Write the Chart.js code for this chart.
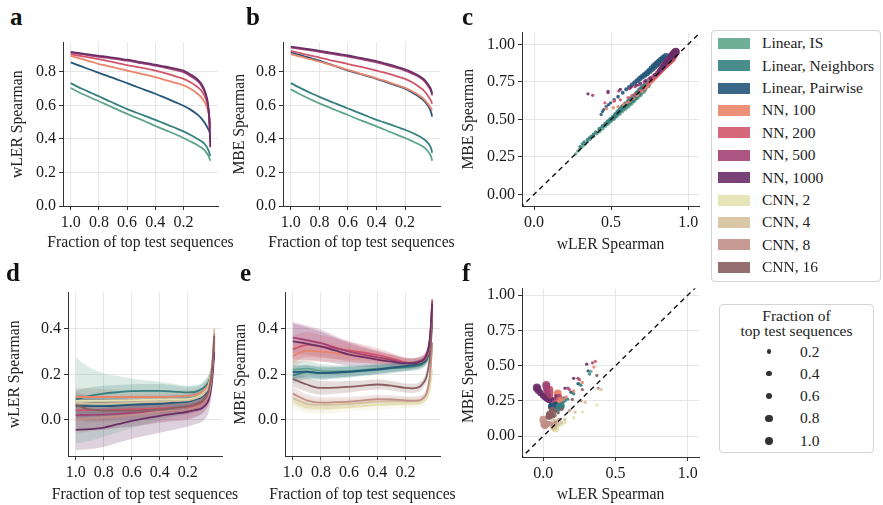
<!DOCTYPE html>
<html lang="en">
<head>
  <meta charset="UTF-8" />
  <title>wLER vs MBE Spearman</title>
  <script src="https://cdn.jsdelivr.net/npm/chart.js"></script>
  <style>
    body { margin: 0; background: #fff; }
    #wrap { position: relative; width: 883px; height: 505px; overflow: hidden; font-family: "Liberation Serif", "Times New Roman", serif; color: #222; }
    canvas { position: absolute; }
    .tag { position: absolute; font: bold 25px "Liberation Serif", serif; line-height: 1; color: #111; }
    .legend { position: absolute; box-sizing: border-box; border: 1px solid #d4d4d4; border-radius: 4px; background: #fff; font-size: 15.5px; line-height: 1; }
    .row { position: absolute; left: 0; right: 0; height: 0; }
    .patch { position: absolute; left: 6px; top: -5.5px; width: 32px; height: 11px; }
    .lbl { position: absolute; top: -8px; white-space: nowrap; }
    .dot { position: absolute; border-radius: 50%; background: #333; }
    .ttl { position: absolute; left: 0; right: 0; text-align: center; }
  </style>
</head>
<body>
<div id="wrap">
  <canvas id="pa"></canvas>
  <canvas id="pb"></canvas>
  <canvas id="pc"></canvas>
  <canvas id="pd"></canvas>
  <canvas id="pe"></canvas>
  <canvas id="pf"></canvas>
  <div class="tag" style="left:10px;top:4px">a</div>
  <div class="tag" style="left:246px;top:4px">b</div>
  <div class="tag" style="left:462px;top:4px">c</div>
  <div class="tag" style="left:6px;top:260px">d</div>
  <div class="tag" style="left:240px;top:260px">e</div>
  <div class="tag" style="left:462px;top:260px">f</div>
  <div class="legend" id="modelLegend" style="left:711px;top:30px;width:170px;height:252px"></div>
  <div class="legend" id="sizeLegend" style="left:719px;top:304px;width:155px;height:149px"></div>
</div>
<script>
  // x values: fraction of top test sequences
  const FRAC_TOP = [1.0, 0.95, 0.9, 0.85, 0.8, 0.75, 0.7, 0.65, 0.6, 0.55, 0.5, 0.45, 0.4, 0.35, 0.3, 0.25, 0.2,
                    0.15, 0.1, 0.07, 0.05, 0.04, 0.03, 0.02, 0.015, 0.01];
  const FRAC_BOT = [1.0, 0.9, 0.8, 0.7, 0.6, 0.5, 0.4, 0.3, 0.2, 0.15, 0.1, 0.07, 0.05, 0.03, 0.02, 0.01];

  const MODELS = ['Linear, IS', 'Linear, Neighbors', 'Linear, Pairwise', 'NN, 100', 'NN, 200', 'NN, 500', 'NN, 1000',
                  'CNN, 2', 'CNN, 4', 'CNN, 8', 'CNN, 16'];
  const COLORS = ['#5fa58c', '#35807f', '#25577a', '#ea846b', '#d2566b', '#a34275', '#6b2f68',
                  '#e4e1b0', '#d5c19e', '#c18f88', '#8a5e60'];

  // panel a: wLER Spearman (rows follow MODELS, first seven)
  const A_WLER = [
    [0.704, 0.682, 0.662, 0.643, 0.625, 0.606, 0.587, 0.568, 0.550, 0.532, 0.515, 0.496, 0.478, 0.460, 0.443, 0.425, 0.406, 0.385, 0.363, 0.347, 0.333, 0.322, 0.310, 0.295, 0.284, 0.270],
    [0.733, 0.711, 0.692, 0.673, 0.655, 0.635, 0.616, 0.597, 0.578, 0.562, 0.546, 0.530, 0.514, 0.497, 0.480, 0.463, 0.445, 0.424, 0.400, 0.385, 0.370, 0.358, 0.345, 0.325, 0.313, 0.298],
    [0.857, 0.841, 0.825, 0.810, 0.794, 0.779, 0.764, 0.749, 0.733, 0.717, 0.701, 0.686, 0.670, 0.653, 0.635, 0.617, 0.598, 0.575, 0.545, 0.520, 0.497, 0.483, 0.468, 0.452, 0.444, 0.435],
    [0.896, 0.884, 0.872, 0.860, 0.847, 0.838, 0.828, 0.818, 0.808, 0.799, 0.789, 0.779, 0.769, 0.757, 0.745, 0.733, 0.720, 0.700, 0.670, 0.645, 0.620, 0.602, 0.580, 0.545, 0.515, 0.470],
    [0.906, 0.898, 0.891, 0.884, 0.876, 0.867, 0.858, 0.850, 0.841, 0.833, 0.825, 0.817, 0.808, 0.797, 0.785, 0.772, 0.759, 0.738, 0.710, 0.685, 0.655, 0.635, 0.610, 0.560, 0.520, 0.460],
    [0.916, 0.910, 0.903, 0.896, 0.890, 0.885, 0.879, 0.873, 0.867, 0.860, 0.852, 0.845, 0.837, 0.829, 0.820, 0.810, 0.798, 0.775, 0.745, 0.715, 0.680, 0.655, 0.620, 0.550, 0.480, 0.380],
    [0.920, 0.914, 0.908, 0.902, 0.896, 0.891, 0.885, 0.879, 0.873, 0.866, 0.858, 0.851, 0.843, 0.835, 0.827, 0.818, 0.808, 0.785, 0.755, 0.725, 0.690, 0.665, 0.630, 0.560, 0.480, 0.350]
  ];

  // panel b: MBE Spearman
  const B_MBE = [
    [0.696, 0.673, 0.652, 0.632, 0.612, 0.594, 0.577, 0.560, 0.543, 0.525, 0.508, 0.492, 0.475, 0.458, 0.440, 0.423, 0.406, 0.387, 0.367, 0.352, 0.337, 0.327, 0.315, 0.300, 0.288, 0.270],
    [0.733, 0.711, 0.690, 0.670, 0.651, 0.633, 0.616, 0.599, 0.582, 0.565, 0.548, 0.531, 0.514, 0.500, 0.485, 0.470, 0.455, 0.437, 0.416, 0.400, 0.386, 0.376, 0.365, 0.350, 0.337, 0.318],
    [0.916, 0.904, 0.892, 0.880, 0.867, 0.853, 0.838, 0.823, 0.808, 0.796, 0.784, 0.772, 0.759, 0.745, 0.730, 0.715, 0.700, 0.677, 0.651, 0.630, 0.610, 0.598, 0.585, 0.565, 0.552, 0.533],
    [0.906, 0.895, 0.884, 0.873, 0.862, 0.850, 0.837, 0.825, 0.812, 0.800, 0.787, 0.775, 0.762, 0.749, 0.735, 0.720, 0.705, 0.685, 0.660, 0.640, 0.620, 0.610, 0.600, 0.585, 0.578, 0.570],
    [0.925, 0.915, 0.905, 0.896, 0.886, 0.876, 0.866, 0.857, 0.847, 0.838, 0.828, 0.818, 0.808, 0.797, 0.785, 0.772, 0.759, 0.738, 0.710, 0.690, 0.670, 0.658, 0.645, 0.630, 0.621, 0.610],
    [0.945, 0.939, 0.933, 0.927, 0.920, 0.913, 0.906, 0.899, 0.892, 0.884, 0.875, 0.866, 0.857, 0.846, 0.835, 0.822, 0.808, 0.790, 0.769, 0.750, 0.730, 0.718, 0.705, 0.690, 0.677, 0.660],
    [0.951, 0.945, 0.939, 0.933, 0.926, 0.919, 0.912, 0.905, 0.898, 0.890, 0.882, 0.873, 0.864, 0.853, 0.842, 0.829, 0.816, 0.798, 0.776, 0.758, 0.740, 0.728, 0.715, 0.700, 0.687, 0.670]
  ];

  // panel d: wLER Spearman mean and spread, all models
  const D_WLER = [
    [0.085, 0.068, 0.065, 0.068, 0.072, 0.077, 0.082, 0.086, 0.090, 0.098, 0.110, 0.128, 0.148, 0.200, 0.250, 0.330],
    [0.090, 0.105, 0.115, 0.121, 0.126, 0.127, 0.127, 0.124, 0.120, 0.122, 0.135, 0.150, 0.168, 0.210, 0.260, 0.320],
    [0.060, 0.060, 0.060, 0.062, 0.065, 0.068, 0.070, 0.075, 0.080, 0.088, 0.100, 0.118, 0.138, 0.190, 0.240, 0.310],
    [0.100, 0.100, 0.100, 0.100, 0.100, 0.100, 0.100, 0.102, 0.105, 0.110, 0.120, 0.138, 0.158, 0.210, 0.270, 0.350],
    [0.042, 0.042, 0.042, 0.044, 0.046, 0.048, 0.050, 0.053, 0.056, 0.063, 0.075, 0.095, 0.118, 0.180, 0.250, 0.360],
    [0.020, 0.021, 0.022, 0.026, 0.030, 0.033, 0.036, 0.040, 0.045, 0.053, 0.065, 0.085, 0.108, 0.170, 0.240, 0.340],
    [-0.045, -0.042, -0.035, -0.020, -0.005, 0.006, 0.017, 0.026, 0.035, 0.042, 0.050, 0.066, 0.088, 0.150, 0.210, 0.300],
    [0.083, 0.083, 0.083, 0.084, 0.085, 0.087, 0.088, 0.089, 0.090, 0.097, 0.110, 0.128, 0.148, 0.210, 0.270, 0.370],
    [0.075, 0.071, 0.070, 0.072, 0.075, 0.078, 0.080, 0.083, 0.085, 0.093, 0.105, 0.125, 0.148, 0.220, 0.290, 0.400],
    [0.000, 0.005, 0.010, 0.015, 0.020, 0.028, 0.035, 0.040, 0.045, 0.053, 0.065, 0.085, 0.108, 0.180, 0.260, 0.380],
    [0.065, 0.045, 0.040, 0.040, 0.040, 0.042, 0.045, 0.052, 0.060, 0.068, 0.080, 0.102, 0.128, 0.200, 0.270, 0.370]
  ];
  const D_SD = [
    [0.190, 0.162, 0.140, 0.124, 0.110, 0.097, 0.085, 0.072, 0.060, 0.055, 0.050, 0.050, 0.050, 0.050, 0.050, 0.040],
    [0.040, 0.037, 0.035, 0.032, 0.030, 0.030, 0.030, 0.028, 0.025, 0.025, 0.025, 0.028, 0.030, 0.030, 0.030, 0.030],
    [0.050, 0.047, 0.045, 0.042, 0.040, 0.037, 0.035, 0.032, 0.030, 0.030, 0.030, 0.030, 0.030, 0.030, 0.030, 0.030],
    [0.040, 0.037, 0.035, 0.032, 0.030, 0.030, 0.030, 0.028, 0.025, 0.025, 0.025, 0.028, 0.030, 0.030, 0.030, 0.030],
    [0.050, 0.047, 0.045, 0.042, 0.040, 0.037, 0.035, 0.032, 0.030, 0.030, 0.030, 0.030, 0.030, 0.035, 0.040, 0.040],
    [0.070, 0.067, 0.065, 0.062, 0.060, 0.055, 0.050, 0.047, 0.045, 0.042, 0.040, 0.040, 0.040, 0.040, 0.040, 0.040],
    [0.090, 0.087, 0.085, 0.082, 0.080, 0.077, 0.075, 0.070, 0.065, 0.062, 0.060, 0.057, 0.055, 0.050, 0.050, 0.050],
    [0.030, 0.029, 0.028, 0.026, 0.025, 0.025, 0.025, 0.023, 0.022, 0.022, 0.022, 0.024, 0.025, 0.030, 0.030, 0.030],
    [0.035, 0.032, 0.030, 0.029, 0.028, 0.026, 0.025, 0.025, 0.025, 0.025, 0.025, 0.027, 0.028, 0.030, 0.030, 0.030],
    [0.060, 0.057, 0.055, 0.052, 0.050, 0.047, 0.045, 0.042, 0.040, 0.040, 0.040, 0.040, 0.040, 0.040, 0.040, 0.040],
    [0.060, 0.055, 0.050, 0.047, 0.045, 0.042, 0.040, 0.037, 0.035, 0.035, 0.035, 0.035, 0.035, 0.035, 0.035, 0.035]
  ];

  // panel e: MBE Spearman mean and spread
  const E_MBE = [
    [0.220, 0.225, 0.215, 0.213, 0.215, 0.220, 0.225, 0.230, 0.235, 0.238, 0.245, 0.255, 0.268, 0.310, 0.370, 0.460],
    [0.195, 0.210, 0.205, 0.207, 0.210, 0.215, 0.220, 0.226, 0.232, 0.235, 0.240, 0.250, 0.262, 0.300, 0.360, 0.440],
    [0.210, 0.212, 0.205, 0.208, 0.212, 0.217, 0.222, 0.229, 0.236, 0.240, 0.246, 0.256, 0.269, 0.312, 0.372, 0.462],
    [0.280, 0.304, 0.300, 0.294, 0.287, 0.280, 0.272, 0.262, 0.250, 0.248, 0.252, 0.262, 0.277, 0.320, 0.380, 0.490],
    [0.310, 0.330, 0.322, 0.314, 0.305, 0.296, 0.285, 0.270, 0.253, 0.250, 0.255, 0.265, 0.282, 0.330, 0.400, 0.530],
    [0.362, 0.350, 0.337, 0.318, 0.300, 0.287, 0.275, 0.263, 0.250, 0.250, 0.258, 0.268, 0.288, 0.340, 0.410, 0.520],
    [0.345, 0.335, 0.323, 0.305, 0.287, 0.276, 0.265, 0.256, 0.248, 0.248, 0.255, 0.265, 0.286, 0.340, 0.410, 0.510],
    [0.080, 0.055, 0.050, 0.052, 0.055, 0.060, 0.065, 0.068, 0.070, 0.072, 0.075, 0.082, 0.095, 0.130, 0.170, 0.220],
    [0.095, 0.070, 0.065, 0.067, 0.070, 0.075, 0.080, 0.081, 0.080, 0.082, 0.085, 0.097, 0.115, 0.170, 0.240, 0.330],
    [0.115, 0.085, 0.075, 0.077, 0.080, 0.085, 0.090, 0.089, 0.085, 0.084, 0.085, 0.097, 0.118, 0.180, 0.250, 0.340],
    [0.180, 0.155, 0.140, 0.141, 0.145, 0.150, 0.155, 0.150, 0.140, 0.138, 0.145, 0.165, 0.190, 0.260, 0.330, 0.430]
  ];
  const E_SD = [
    [0.040, 0.035, 0.030, 0.027, 0.025, 0.023, 0.022, 0.021, 0.020, 0.020, 0.020, 0.020, 0.020, 0.022, 0.025, 0.025],
    [0.035, 0.032, 0.030, 0.027, 0.025, 0.023, 0.022, 0.021, 0.020, 0.020, 0.020, 0.020, 0.020, 0.022, 0.025, 0.025],
    [0.030, 0.027, 0.025, 0.023, 0.022, 0.021, 0.020, 0.019, 0.018, 0.018, 0.018, 0.019, 0.020, 0.022, 0.025, 0.025],
    [0.050, 0.047, 0.045, 0.040, 0.035, 0.030, 0.025, 0.022, 0.020, 0.020, 0.020, 0.020, 0.020, 0.022, 0.025, 0.025],
    [0.060, 0.055, 0.050, 0.045, 0.040, 0.035, 0.030, 0.025, 0.020, 0.020, 0.020, 0.020, 0.020, 0.022, 0.025, 0.025],
    [0.070, 0.065, 0.060, 0.052, 0.045, 0.037, 0.030, 0.025, 0.020, 0.020, 0.020, 0.020, 0.020, 0.022, 0.025, 0.025],
    [0.080, 0.072, 0.065, 0.057, 0.050, 0.042, 0.035, 0.030, 0.025, 0.022, 0.020, 0.020, 0.020, 0.022, 0.025, 0.025],
    [0.030, 0.027, 0.025, 0.022, 0.020, 0.020, 0.020, 0.019, 0.018, 0.018, 0.018, 0.018, 0.018, 0.020, 0.020, 0.020],
    [0.030, 0.027, 0.025, 0.022, 0.020, 0.020, 0.020, 0.019, 0.018, 0.018, 0.018, 0.018, 0.018, 0.020, 0.020, 0.020],
    [0.030, 0.027, 0.025, 0.022, 0.020, 0.020, 0.020, 0.019, 0.018, 0.018, 0.018, 0.018, 0.018, 0.020, 0.020, 0.020],
    [0.035, 0.032, 0.030, 0.027, 0.025, 0.023, 0.022, 0.021, 0.020, 0.020, 0.020, 0.020, 0.020, 0.022, 0.022, 0.022]
  ];

  // ticks
  const FRAC_TICKS = [1.0, 0.8, 0.6, 0.4, 0.2];
  const TOP_YTICKS = [0, 0.2, 0.4, 0.6, 0.8];
  const BOT_YTICKS = [0, 0.2, 0.4];
  const SC_YTICKS = [0, 0.25, 0.5, 0.75, 1.0];
  const SC_XTICKS = [0, 0.5, 1.0];
  const SIZE_FRACS = [0.2, 0.4, 0.6, 0.8, 1.0];

  const SERIF = '"Liberation Serif", "Times New Roman", serif';
  const TICK_FONT = { family: SERIF, size: 16, weight: 'normal' };
  Chart.defaults.font.family = SERIF;
  Chart.defaults.color = '#222';

  function rgba(hex, a) {
    const n = parseInt(hex.slice(1), 16);
    return `rgba(${n >> 16},${(n >> 8) & 255},${n & 255},${a})`;
  }
  function dotRadius(f) { return 1.6 + 2.4 * f; }

  // axis titles drawn by hand: the built-in ones get squeezed to the axis length
  const axisTitles = {
    id: 'axisTitles',
    afterDraw(chart, args, o) {
      const { ctx, chartArea: ca } = chart;
      ctx.save();
      ctx.font = '15.7px ' + SERIF;
      ctx.fillStyle = '#222';
      ctx.textAlign = 'center';
      ctx.textBaseline = 'middle';
      ctx.fillText(o.x, (ca.left + ca.right) / 2, o.xAt);
      ctx.translate(o.yAt, (ca.top + ca.bottom) / 2);
      ctx.rotate(-Math.PI / 2);
      ctx.fillText(o.y, 0, 0);
      ctx.restore();
    }
  };

  function axis(o) {
    return {
      type: 'linear',
      min: o.min, max: o.max, reverse: !!o.reverse,
      afterBuildTicks: s => { s.ticks = o.ticks.map(v => ({ value: v })); },
      afterFit: s => { if (s.isHorizontal()) s.height = o.size; else s.width = o.size; },
      grid: { color: '#e6e6e6', lineWidth: 1, tickLength: 4, tickColor: '#333', tickWidth: 1 },
      border: { display: true, color: '#333', width: 1 },
      ticks: { padding: 3, autoSkip: false, maxRotation: 0, color: '#1a1a1a', font: TICK_FONT, callback: v => v.toFixed(o.dec) },
      title: { display: false }
    };
  }

  function makeChart(id, box, type, datasets, x, y, titles) {
    const cv = document.getElementById(id);
    cv.width = box.w; cv.height = box.h;
    cv.style.left = box.x + 'px'; cv.style.top = box.y + 'px';
    return new Chart(cv, {
      type: type,
      data: { datasets: datasets },
      plugins: [axisTitles],
      options: {
        responsive: false, animation: false, events: [],
        layout: { padding: { left: 0, top: box.pt, right: box.pr, bottom: 0 } },
        plugins: { legend: { display: false }, tooltip: { enabled: false }, axisTitles: titles },
        scales: { x: x, y: y }
      }
    });
  }

  function lineSets(fracs, rows, sds) {
    const sets = [];
    rows.forEach((row, i) => {
      sets.push({
        data: fracs.map((f, k) => ({ x: f, y: row[k] })),
        borderColor: COLORS[i], borderWidth: 1.8, pointRadius: 0,
        cubicInterpolationMode: 'monotone', fill: false, clip: 0, order: -i
      });
    });
    if (sds) {
      rows.forEach((row, i) => {
        sets.push({
          data: fracs.map((f, k) => ({ x: f, y: row[k] - sds[i][k] })),
          borderColor: 'rgba(0,0,0,0)', borderWidth: 1, pointRadius: 0,
          cubicInterpolationMode: 'monotone', fill: false, clip: 0, order: 100
        });
        sets.push({
          data: fracs.map((f, k) => ({ x: f, y: row[k] + sds[i][k] })),
          borderColor: 'rgba(0,0,0,0)', borderWidth: 1, pointRadius: 0,
          backgroundColor: rgba(COLORS[i], 0.22),
          cubicInterpolationMode: 'monotone', fill: '-1', clip: 0, order: 100
        });
      });
    }
    return sets;
  }

  function scatterSets(fracs, xs, ys) {
    const sets = [{
      type: 'line',
      data: [{ x: -0.3, y: -0.3 }, { x: 1.3, y: 1.3 }],
      borderColor: '#111', borderWidth: 1.4, borderDash: [5, 4],
      pointRadius: 0, fill: false, clip: 0, order: -100
    }];
    xs.forEach((row, i) => {
      sets.push({
        data: fracs.map((f, k) => ({ x: row[k], y: ys[i][k], f: f })),
        backgroundColor: rgba(COLORS[i], 0.9), borderWidth: 0,
        pointRadius: ctx => dotRadius(ctx.raw ? ctx.raw.f : 1),
        order: -i
      });
    });
    return sets;
  }

  const FRAC_TITLE = 'Fraction of top test sequences';

  // a
  makeChart('pa', { x: 0, y: 30, w: 240, h: 225, pt: 9, pr: 22 }, 'line',
    lineSets(FRAC_TOP, A_WLER),
    axis({ min: -0.045, max: 1.055, reverse: true, ticks: FRAC_TICKS, dec: 1, size: 49 }),
    axis({ min: 0, max: 0.975, ticks: TOP_YTICKS, dec: 1, size: 63 }),
    { x: FRAC_TITLE, xAt: 213, y: 'wLER Spearman', yAt: 18 });

  // b
  makeChart('pb', { x: 228, y: 30, w: 235, h: 225, pt: 9, pr: 23 }, 'line',
    lineSets(FRAC_TOP, B_MBE),
    axis({ min: -0.045, max: 1.055, reverse: true, ticks: FRAC_TICKS, dec: 1, size: 49 }),
    axis({ min: 0, max: 0.975, ticks: TOP_YTICKS, dec: 1, size: 55 }),
    { x: FRAC_TITLE, xAt: 213, y: 'MBE Spearman', yAt: 12 });

  // c
  makeChart('pc', { x: 448, y: 20, w: 256, h: 235, pt: 10, pr: 5 }, 'scatter',
    scatterSets(FRAC_TOP, A_WLER, B_MBE),
    axis({ min: -0.078, max: 1.07, ticks: SC_XTICKS, dec: 1, size: 49 }),
    axis({ min: -0.077, max: 1.078, ticks: SC_YTICKS, dec: 2, size: 74 }),
    { x: 'wLER Spearman', xAt: 225, y: 'MBE Spearman', yAt: 21 });

  // d
  makeChart('pd', { x: 0, y: 280, w: 240, h: 225, pt: 10, pr: 18 }, 'line',
    lineSets(FRAC_BOT, D_WLER, D_SD),
    axis({ min: -0.045, max: 1.055, reverse: true, ticks: FRAC_TICKS, dec: 1, size: 49 }),
    axis({ min: -0.16, max: 0.56, ticks: BOT_YTICKS, dec: 1, size: 68 }),
    { x: FRAC_TITLE, xAt: 215, y: 'wLER Spearman', yAt: 14.5 });

  // e
  makeChart('pe', { x: 228, y: 280, w: 235, h: 225, pt: 10, pr: 23 }, 'line',
    lineSets(FRAC_BOT, E_MBE, E_SD),
    axis({ min: -0.045, max: 1.055, reverse: true, ticks: FRAC_TICKS, dec: 1, size: 49 }),
    axis({ min: -0.16, max: 0.56, ticks: BOT_YTICKS, dec: 1, size: 57 }),
    { x: FRAC_TITLE, xAt: 215, y: 'MBE Spearman', yAt: 13 });

  // f
  makeChart('pf', { x: 448, y: 276, w: 256, h: 229, pt: 10, pr: 5 }, 'scatter',
    scatterSets(FRAC_BOT, D_WLER, E_MBE),
    axis({ min: -0.148, max: 1.078, ticks: SC_XTICKS, dec: 1, size: 48 }),
    axis({ min: -0.149, max: 1.047, ticks: SC_YTICKS, dec: 2, size: 74 }),
    { x: 'wLER Spearman', xAt: 219, y: 'MBE Spearman', yAt: 21 });

  // model legend
  const ml = document.getElementById('modelLegend');
  MODELS.forEach((name, i) => {
    const r = document.createElement('div');
    r.className = 'row';
    r.style.top = (12.2 + 22.4 * i) + 'px';
    r.innerHTML = `<div class="patch" style="background:${rgba(COLORS[i], 0.9)}"></div><div class="lbl" style="left:50px">${name}</div>`;
    ml.appendChild(r);
  });

  // size legend
  const sl = document.getElementById('sizeLegend');
  sl.innerHTML = '<div class="ttl" style="top:3px">Fraction of</div><div class="ttl" style="top:17.5px">top test sequences</div>';
  SIZE_FRACS.forEach((f, i) => {
    const r = document.createElement('div');
    r.className = 'row';
    r.style.top = (46.5 + 22.3 * i) + 'px';
    const d = 2 * dotRadius(f);
    r.innerHTML = `<div class="dot" style="left:${49 - d / 2}px;top:${-d / 2}px;width:${d}px;height:${d}px"></div><div class="lbl" style="left:80px">${f.toFixed(1)}</div>`;
    sl.appendChild(r);
  });
</script>
</body>
</html>
